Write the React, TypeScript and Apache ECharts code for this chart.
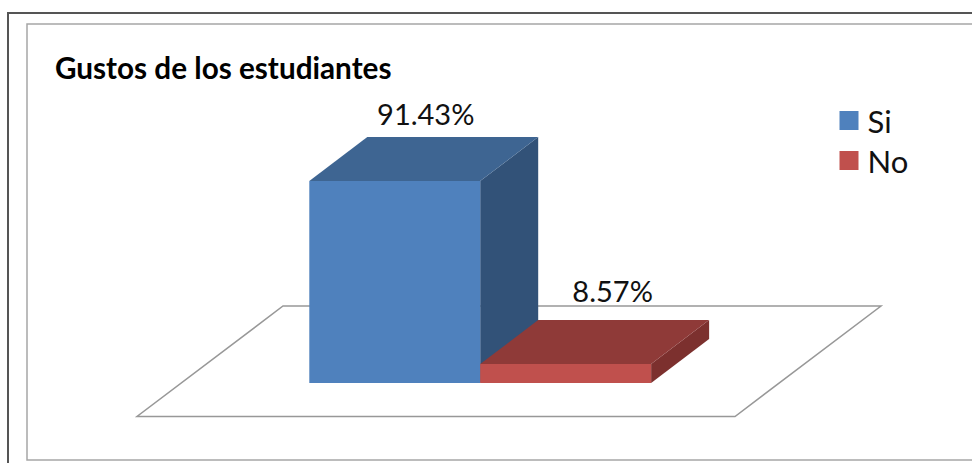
import React, { useEffect, useRef } from "react";
import * as echarts from "echarts";

const titleText = "Gustos de los estudiantes";
const categories = ["Si", "No"];
const siValues = [91.43];
const noValues = [8.57];
const FONT = "Lato, Carlito, 'Open Sans', sans-serif";

const DEPTH_X = 58;
const DEPTH_Y = 44;

function barRenderer(colors: { front: string; top: string; side: string }, labelDx: number, labelDy: number) {
  return (params: any, api: any) => {
    const cat = api.value(0);
    const val = api.value(1);
    const band = api.size([1, 0])[0];
    const c = api.coord([cat, val]);
    const base = api.coord([cat, 0]);
    const x0 = c[0] - band / 2;
    const x1 = c[0] + band / 2;
    const yT = c[1];
    const yB = base[1];
    return {
      type: "group",
      children: [
        {
          type: "polygon",
          shape: { points: [[x1, yT], [x1 + DEPTH_X, yT - DEPTH_Y], [x1 + DEPTH_X, yB - DEPTH_Y], [x1, yB]] },
          style: { fill: colors.side },
        },
        {
          type: "polygon",
          shape: { points: [[x0, yT], [x0 + DEPTH_X, yT - DEPTH_Y], [x1 + DEPTH_X, yT - DEPTH_Y], [x1, yT]] },
          style: { fill: colors.top },
        },
        {
          type: "rect",
          shape: { x: x0, y: yT, width: x1 - x0, height: yB - yT },
          style: { fill: colors.front },
        },
        {
          type: "text",
          x: c[0] + DEPTH_X / 2 + labelDx,
          y: yT - DEPTH_Y + labelDy,
          style: {
            text: val.toFixed(2) + "%",
            fill: "#111",
            font: `29px ${FONT}`,
            align: "center",
            verticalAlign: "middle",
          },
        },
      ],
    };
  };
}

export default function App() {
  const ref = useRef<HTMLDivElement>(null);
  useEffect(() => {
    const chart = echarts.init(ref.current!, undefined, { renderer: "svg" });
    chart.setOption({
      animation: false,
      backgroundColor: "#fff",
      title: {
        text: titleText,
        left: 55,
        top: 52,
        padding: 0,
        textStyle: { fontFamily: FONT, fontSize: 29.7, fontWeight: "bold", color: "#000" },
      },
      legend: {
        data: categories,
        left: 839.5,
        top: 105,
        padding: 0,
        orient: "vertical",
        align: "left",
        icon: "rect",
        itemWidth: 19,
        itemHeight: 19,
        itemGap: 9,
        textStyle: { fontFamily: FONT, fontSize: 31, color: "#111", padding: [0, 0, 0, 4] },
      },
      grid: { left: 309.3, width: 341.8, top: 162.1, height: 220.9 },
      xAxis: { type: "category", data: categories, show: false },
      yAxis: { type: "value", min: 0, max: 100, show: false },
      graphic: [
        {
          type: "line",
          z: -1,
          shape: { x1: 7, y1: 13, x2: 972, y2: 13 },
          style: { stroke: "#555", lineWidth: 2 },
        },
        {
          type: "line",
          z: -1,
          shape: { x1: 8, y1: 13, x2: 8, y2: 463 },
          style: { stroke: "#555", lineWidth: 2 },
        },
        {
          type: "polyline",
          z: -1,
          shape: { points: [[972, 24], [27, 24], [27, 460], [972, 460]] },
          style: { stroke: "#a6a6a6", lineWidth: 1.5, fill: "none" },
        },
        {
          type: "polygon",
          z: -1,
          shape: { points: [[137, 416.5], [735, 416.5], [881, 306], [283, 306]] },
          style: { stroke: "#989898", lineWidth: 1.5, fill: "#fff" },
        },
      ],
      series: [
        {
          name: categories[0],
          type: "custom",
          itemStyle: { color: "#4F81BD" },
          data: siValues.map((v) => [0, v]),
          encode: { x: 0, y: 1 },
          renderItem: barRenderer({ front: "#4F81BD", top: "#3E6592", side: "#325278" }, 2, -24),
        },
        {
          name: categories[1],
          type: "custom",
          itemStyle: { color: "#C0504D" },
          data: noValues.map((v) => [1, v]),
          encode: { x: 0, y: 1 },
          renderItem: barRenderer({ front: "#C0504D", top: "#8F3A38", side: "#7C302E" }, 18, -30),
        },
      ],
    });
    return () => chart.dispose();
  }, []);
  return <div ref={ref} style={{ position: "fixed", left: 0, top: 0, width: 972, height: 463 }} />;
}
